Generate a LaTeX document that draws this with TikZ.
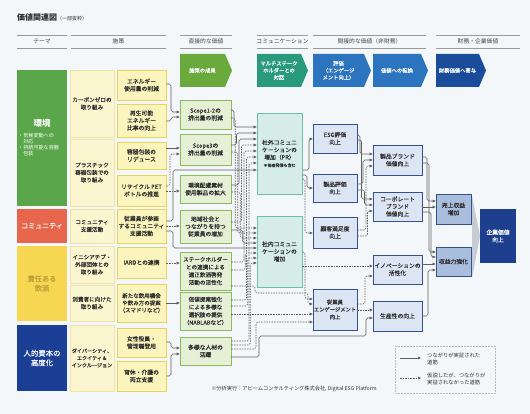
\documentclass[tikz,border=0pt]{standalone}
\usepackage{fontspec}
\setmainfont{Noto Sans CJK JP}
\newfontfamily\jpm{Noto Sans CJK JP}[FakeBold=0.3]
\usetikzlibrary{arrows.meta}
\definecolor{bg}{HTML}{F4F7FA}
\definecolor{txt}{HTML}{2E2E2E}
\definecolor{hdc}{HTML}{444444}
\definecolor{hdl}{HTML}{9A9A9A}
\definecolor{envg}{HTML}{5AA64A}
\definecolor{comr}{HTML}{E8664C}
\definecolor{resy}{HTML}{F7D652}
\definecolor{resyt}{HTML}{BF9F3C}
\definecolor{humb}{HTML}{1B3F95}
\definecolor{pfill}{HTML}{FBF5D0}
\definecolor{pdraw}{HTML}{EFE4A6}
\definecolor{sfill}{HTML}{FCF4BD}
\definecolor{sdraw}{HTML}{E4D55E}
\definecolor{dfill}{HTML}{E5F0D6}
\definecolor{ddraw}{HTML}{8CBB5E}
\definecolor{cfill}{HTML}{D5EDE6}
\definecolor{cdraw}{HTML}{6CBFA8}
\definecolor{efill}{HTML}{DCE5F4}
\definecolor{edraw}{HTML}{34508F}
\definecolor{gfill}{HTML}{A9BEDD}
\definecolor{hfill}{HTML}{1E3F8E}
\definecolor{chg}{HTML}{6AAA3C}
\definecolor{cht}{HTML}{2A9A7D}
\definecolor{chb}{HTML}{2C74BD}
\definecolor{chd}{HTML}{1B4C99}
\definecolor{lnc}{HTML}{5F5F5F}
\definecolor{tri}{HTML}{C6CCD4}
\definecolor{legd}{HTML}{B8B8B8}
\newcommand\fsz[2]{\fontsize{#1}{#2}\selectfont}
\newcommand\bfsz[2]{\jpm\fontsize{#1}{#2}\selectfont}
\newcommand\mybox[7]{\node[#1,minimum width={#5pt-#3pt},minimum height={#6pt-#4pt}] (#2) at ({(#3+#5)/2},{(#4+#6)/2}) {#7};}
\newcommand\chevron[5]{\fill[#4] (#2,54) -- ({#3-7},54) -- (#3,70.5) -- ({#3-7},87) -- (#2,87) -- cycle;
  \node[chev] (#1) at ({(#2+#3-7)/2},70.5) {#5};}
\newcommand\hdr[4]{\draw[hdline] (#2,35) -- (#3,35); \draw[hdline] (#2,48) -- (#3,48);
  \node[hdtxt] (#1) at ({(#2+#3)/2},41.5) {#4};}
\tikzset{
 base/.style={rectangle, inner sep=0pt, align=center, text=txt, font=\bfsz{5.8}{7.4}},
 theme/.style={base, fill=#1, text=white},
 pbox/.style={base, fill=pfill, draw=pdraw, line width=0.5pt, font=\bfsz{5.6}{7.4}},
 sbox/.style={base, fill=sfill, draw=sdraw, line width=0.9pt},
 dbox/.style={base, fill=dfill, draw=ddraw, line width=0.9pt},
 cbox/.style={base, fill=cfill, draw=cdraw, line width=0.8pt},
 ebox/.style={base, fill=efill, draw=edraw, line width=0.9pt},
 gbox/.style={base, fill=gfill, draw=edraw, line width=0.9pt},
 hdline/.style={draw=hdl, line width=0.6pt},
 hdtxt/.style={inner sep=0pt, font=\fsz{5.8}{7}, text=hdc},
 chev/.style={inner sep=0pt, align=center, text=white, font=\bfsz{5.3}{7}},
 sol/.style={draw=lnc, line width=0.6pt, rounded corners=1.8pt, -{Triangle[length=3pt,width=2.8pt]}},
 dsh/.style={sol, dash pattern=on 1.5pt off 1.1pt},
}
\begin{document}
\begin{tikzpicture}[x=1pt,y=-1pt]
\fill[bg] (0,0) rectangle (530,414);
\useasboundingbox (0,0) rectangle (530,414);
% title
\node[anchor=west, inner sep=0pt, text=txt] (title) at (17,17) {{\fsz{8}{9}\bfseries 価値関連図}{\fsz{5}{6}（一部抜粋）}};
% headers
\hdr{h1}{17}{67}{テーマ}
\hdr{h2}{71}{166}{施策}
\hdr{h3}{180}{232}{直接的な価値}
\hdr{h4}{257}{308}{コミュニケーション}
\hdr{h5}{313}{426}{間接的な価値（非財務）}
\hdr{h6}{436}{520}{財務・企業価値}
% chevrons
\chevron{c1}{180}{232}{chg}{施策の成果}
\chevron{c2}{257}{308}{cht}{マルチステーク\\ホルダーとの\\対話}
\chevron{c3}{313}{371}{chb}{評価\\（エンゲージ\\メント向上）}
\chevron{c4}{373}{428}{chb}{価値への転換}
\chevron{c5}{436}{486}{chd}{財務価値へ寄与}
% themes
\mybox{theme=envg}{T1}{17}{70}{67}{206}{}
\node[text=white, inner sep=0pt, font=\fsz{8.5}{9}\bfseries] (T1a) at (42,123) {環境};
\node[anchor=north west, text=white, inner sep=0pt, align=left, font=\fsz{5.1}{5.9}] (T1b) at (18,133) {・気候変動への\\\hspace*{5.1pt}対応\\・持続可能な容器\\\hspace*{5.1pt}包装};
\mybox{theme=comr,font=\bfsz{7}{8}}{T2}{17}{209}{67}{243}{コミュニティ}
\mybox{theme=resy,text=resyt,font=\bfsz{7.2}{9.5}}{T3}{17}{246}{67}{321}{責任ある\\飲酒}
\mybox{theme=humb,font=\bfsz{7.4}{9.5}}{T4}{17}{325}{67}{391}{人的資本の\\高度化}
% initiatives
\mybox{pbox}{P1}{70}{70}{114}{137}{カーボンゼロの\\取り組み}
\mybox{pbox}{P2}{70}{139}{114}{206}{プラスチック\\容器包装での\\取り組み}
\mybox{pbox}{P3}{70}{209}{114}{243}{コミュニティ\\支援活動}
\mybox{pbox}{P4}{70}{246}{114}{283}{イニシアチブ・\\外部団体との\\取り組み}
\mybox{pbox}{P5}{70}{285}{114}{321}{消費者に向けた\\取り組み}
\mybox{pbox,font=\bfsz{5.1}{7.2}}{P6}{70}{325}{114}{391}{ダイバーシティ、\\エクイティ＆\\インクルージョン}
% sub initiatives
\mybox{sbox}{S1}{117}{70}{166}{100}{エネルギー\\使用量の削減}
\mybox{sbox}{S2}{117}{104}{166}{137}{再生可能\\エネルギー\\比率の向上}
\mybox{sbox}{S3}{117}{142}{166}{169}{容器包装の\\リデュース}
\mybox{sbox}{S4}{117}{175}{166}{206}{リサイクル PET\\ボトルの推進}
\mybox{sbox}{S5}{117}{209}{166}{243}{従業員が参画\\するコミュニティ\\支援活動}
\mybox{sbox}{S6}{117}{247}{166}{278}{IARDとの連携}
\mybox{sbox,font=\bfsz{5.5}{7.2}}{S7}{117}{284}{166}{322}{新たな飲用機会\\や飲み方の提案\\（スマドリなど）}
\mybox{sbox}{S8}{117}{328}{166}{357}{女性役員・\\管理職登用}
\mybox{sbox}{S9}{117}{361}{166}{391}{育休・介護の\\両立支援}
% direct values
\mybox{dbox}{D1}{180}{100}{231}{129}{Scope1-2の\\排出量の削減}
\mybox{dbox}{D2}{180}{134}{231}{165}{Scope3の\\排出量の削減}
\mybox{dbox}{D3}{180}{175}{231}{203}{環境配慮素材\\使用製品の拡大}
\mybox{dbox}{D4}{180}{210}{231}{243}{地域社会と\\つながりを持つ\\従業員の増加}
\mybox{dbox,font=\bfsz{5.6}{7.7}}{D5}{180}{252}{231}{290}{ステークホルダー\\との連携による\\適正飲酒啓発\\活動の活性化}
\mybox{dbox,font=\bfsz{5.6}{7.7}}{D6}{180}{292}{231}{330}{価値提案強化\\による多様な\\選択肢の提供\\（NABLABなど）}
\mybox{dbox}{D7}{180}{337}{231}{365}{多様な人材の\\活躍}
% communication
\mybox{cbox}{C1}{257}{113}{302}{194}{社外コミュニ\\ケーションの\\増加（PR）\\{\fsz{4}{5}＊他者発信も含む}}
\mybox{cbox}{C2}{257}{216}{302}{287}{社内コミュニ\\ケーションの\\増加}
% indirect values
\mybox{ebox}{E1}{313}{124}{357}{153}{ESG評価\\向上}
\mybox{ebox}{E2}{313}{174}{357}{202}{製品評価\\向上}
\mybox{ebox}{E3}{313}{217}{357}{248}{顧客満足度\\向上}
\mybox{ebox,font=\bfsz{5.3}{7.4}}{E4}{313}{289}{357}{330}{従業員\\エンゲージメント\\向上}
\mybox{ebox}{F1}{373}{145}{422}{175}{製品ブランド\\価値向上}
\mybox{ebox}{F2}{373}{192}{422}{221}{コーポレート\\ブランド\\価値向上}
\mybox{ebox}{F3}{373}{255}{422}{284}{イノベーションの\\活性化}
\mybox{ebox}{F4}{373}{301}{422}{331}{生産性の向上}
% financial
\mybox{gbox}{G1}{436}{194}{471}{224}{売上収益\\増加}
\mybox{gbox}{G2}{436}{247}{471}{276}{収益力強化}
\fill[tri] (472,196) -- (480,236) -- (472,278) -- cycle;
\mybox{base,fill=hfill,text=white}{H}{480}{209}{516}{263}{企業価値\\向上}
% connectors: initiatives -> direct
\draw[sol] (S1.east |- 0,84) -- (171,84) |- (D1.west |- 0,112);
\draw[sol] (S2.east |- 0,121) -- (171,121) |- (D1.west |- 0,117);
\draw[sol] (S3.east |- 0,148) -- (D2.west |- 0,148);
\draw[dsh] (S4.east |- 0,186) -- (170,186) |- (D2.west |- 0,154);
\draw[dsh] (S4.east |- 0,191) -- (D3.west |- 0,191);
\draw[dsh] (S5.east |- 0,226) -- (D4.west |- 0,226);
\draw[sol] (S5.east |- 0,221) -- (173,221) |- (C1.west |- 0,170);
\draw[sol] (S5.east |- 0,231) -- (173,231) |- (C2.west |- 0,248);
\draw[dsh] (S6.east |- 0,263) -- (D5.west |- 0,263);
\draw[sol] (S7.east |- 0,303) -- (D6.west |- 0,303);
\draw[sol] (S8.east |- 0,342) -- (171,342) |- (D7.west |- 0,348);
\draw[sol] (S9.east |- 0,376) -- (171,376) |- (D7.west |- 0,354);
% direct -> communication
\draw[sol] (D1.east |- 0,110) -- (234,110) |- (C1.west |- 0,127);
\draw[dsh] (D1.east |- 0,118) -- (235.25,118) |- (C2.west |- 0,228);
\draw[sol] (D2.east |- 0,145) -- (236.5,145) |- (C1.west |- 0,133);
\draw[dsh] (D2.east |- 0,152) -- (237.75,152) |- (C2.west |- 0,233);
\draw[sol] (D3.east |- 0,185) -- (239,185) |- (C1.west |- 0,139);
\draw[dsh] (D3.east |- 0,192) -- (240.25,192) |- (C2.west |- 0,238);
\draw[dsh] (D4.east |- 0,222) -- (241.5,222) |- (C1.west |- 0,145);
\draw[sol] (D4.east |- 0,230) -- (242.75,230) |- (C2.west |- 0,243);
\draw[dsh] (D5.east |- 0,262) -- (244,262) |- (C1.west |- 0,151);
\draw[dsh] (D5.east |- 0,270) -- (245.25,270) |- (C2.west |- 0,253);
\draw[dsh] (D6.east |- 0,300) -- (246.5,300) |- (C1.west |- 0,157);
\draw[dsh] (D6.east |- 0,306) -- (247.75,306) |- (C2.west |- 0,258);
\draw[dsh] (D7.east |- 0,341) -- (249,341) |- (C1.west |- 0,163);
\draw[dsh] (D7.east |- 0,345) -- (250.25,345) |- (C2.west |- 0,263);
% direct -> employee engagement / productivity
\draw[dsh] (D5.east |- 0,286) -| (255,293) -- (308,293) |- (E4.west |- 0,304);
\draw[dsh] (D6.east |- 0,314) -- (E4.west |- 0,314);
\draw[dsh] (D7.east |- 0,349) -| (256,322) -- (E4.west |- 0,322);
\draw[sol] (D7.east |- 0,357) -| (259,336) -- (366,336) |- (F4.west |- 0,318);
% communication -> indirect
\draw[sol] (C1.east |- 0,170) -- (309,170) |- (E1.west |- 0,139);
\draw[sol] (C1.east |- 0,175) -- (307,175) |- (E2.west |- 0,188);
\draw[dsh] (C1.east |- 0,179) -- (305,179) |- (E3.west |- 0,233);
\draw[dsh] (C2.east |- 0,252) -- (305,252) |- (E4.west |- 0,299);
\draw[dsh] (C2.east |- 0,266) -- (F3.west |- 0,266);
% indirect -> value conversion
\draw[sol] (E1.east |- 0,135) -- (360,135) |- (F1.west |- 0,154);
\draw[sol] (E1.east |- 0,140) -- (361.5,140) |- (F2.west |- 0,199);
\draw[sol] (E2.east |- 0,184) -- (363,184) |- (F1.west |- 0,160);
\draw[sol] (E2.east |- 0,190) -- (364.5,190) |- (F2.west |- 0,205);
\draw[dsh] (E3.east |- 0,230) -- (366,230) |- (F1.west |- 0,166);
\draw[dsh] (E3.east |- 0,236) -- (367.5,236) |- (F2.west |- 0,211);
\draw[dsh] (E4.east |- 0,304) -- (365,304) |- (F3.west |- 0,276);
\draw[dsh] (E4.east |- 0,310) -- (F4.west |- 0,310);
% value conversion -> financial
\draw[sol] (F1.east |- 0,157) -- (427,157) |- (G1.west |- 0,201);
\draw[sol] (F1.east |- 0,163) -- (429,163) |- (G2.west |- 0,252);
\draw[sol] (F2.east |- 0,207) -- (G1.west |- 0,207);
\draw[sol] (F2.east |- 0,212) -- (431,212) |- (G2.west |- 0,257);
\draw[sol] (F3.east |- 0,264) -- (G2.west |- 0,264);
\draw[sol] (F4.east |- 0,316) -- (428,316) |- (G2.west |- 0,270);
% legend
\draw[legd, densely dotted, line width=0.5pt] (395,346) rectangle (495,393);
\coordinate (la1) at (400,358); \coordinate (lb1) at (421,358);
\coordinate (la2) at (400,378); \coordinate (lb2) at (421,378);
\draw[sol] (la1) -- (lb1);
\draw[dsh] (la2) -- (lb2);
\node[anchor=west, inner sep=0pt, align=left, text=txt, font=\fsz{5.3}{7.2}] (lt1) at (427,359) {つながりが実証された\\道筋};
\node[anchor=west, inner sep=0pt, align=left, text=txt, font=\fsz{5.3}{7.2}] (lt2) at (427,379) {仮説したが、つながりが\\実証されなかった道筋};
% footnote
\node[inner sep=0pt, text=txt, font=\fsz{5.2}{6}] (fn) at (294,389) {※分析実行：アビームコンサルティング株式会社, Digital ESG Platform};
\end{tikzpicture}
\end{document}
